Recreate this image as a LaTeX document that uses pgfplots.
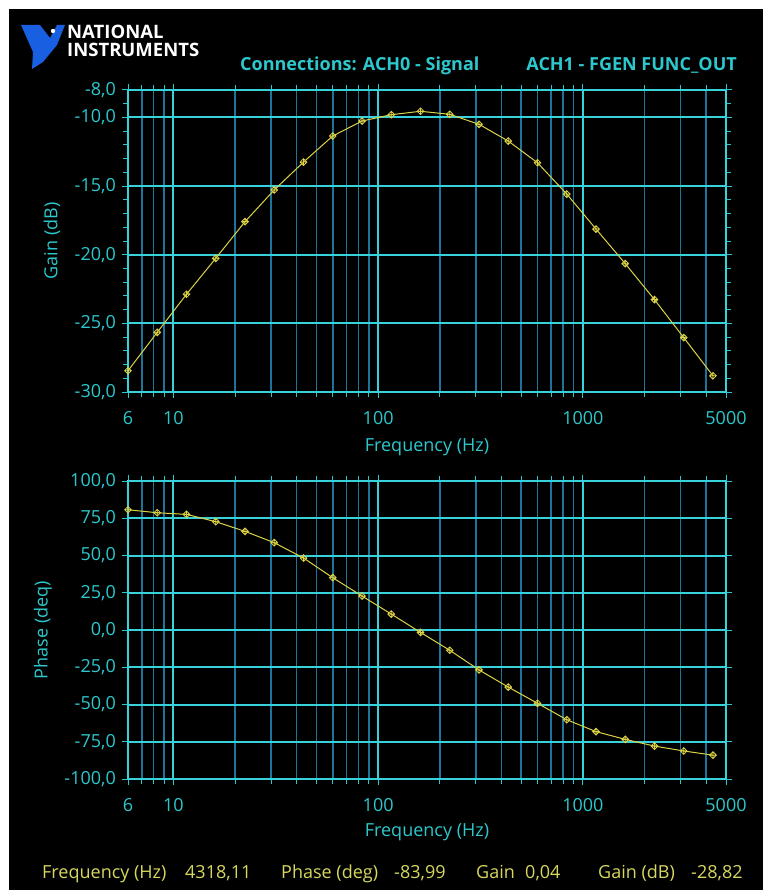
\documentclass[border=0pt]{standalone}
\usepackage{fontspec}
\setmainfont{Open Sans}
\newfontfamily\logofont{Open Sans}
\usepackage{pgfplots}
\usepackage{pgfplotstable}
\pgfplotsset{compat=1.18}
\definecolor{gridmaj}{RGB}{55,210,220}
\definecolor{gridmin}{RGB}{30,115,155}
\definecolor{lab}{RGB}{45,200,205}
\definecolor{curvec}{RGB}{220,210,70}
\definecolor{stat}{RGB}{215,215,95}
\definecolor{framec}{RGB}{200,200,200}
\definecolor{niblue}{RGB}{25,95,225}

\pgfdeclareplotmark{dcross}{%
  \pgfpathmoveto{\pgfqpoint{0pt}{\pgfplotmarksize}}%
  \pgfpathlineto{\pgfqpoint{\pgfplotmarksize}{0pt}}%
  \pgfpathlineto{\pgfqpoint{0pt}{-\pgfplotmarksize}}%
  \pgfpathlineto{\pgfqpoint{-\pgfplotmarksize}{0pt}}%
  \pgfpathclose
  \pgfpathmoveto{\pgfqpoint{0pt}{\pgfplotmarksize}}%
  \pgfpathlineto{\pgfqpoint{0pt}{-\pgfplotmarksize}}%
  \pgfpathmoveto{\pgfqpoint{\pgfplotmarksize}{0pt}}%
  \pgfpathlineto{\pgfqpoint{-\pgfplotmarksize}{0pt}}%
  \pgfusepathqstroke
}

\pgfplotstableread{
f gain phase
6.00 -28.45 80.7
8.337 -25.65 78.7
11.585 -22.88 77.6
16.098 -20.26 72.7
22.37 -17.59 66.2
31.08 -15.28 58.6
43.19 -13.25 48.3
60.01 -11.35 35.1
83.39 -10.26 22.8
115.87 -9.80 10.7
161.0 -9.55 -1.6
223.7 -9.77 -13.6
310.9 -10.50 -26.8
431.9 -11.72 -38.3
600.2 -13.30 -49.2
834.0 -15.58 -60.2
1158.8 -18.13 -68.2
1610 -20.65 -73.4
2237 -23.27 -77.9
3109 -26.04 -81.2
4318.11 -28.82 -83.99
}\bodedata

\begin{document}
\fontsize{18}{21}\selectfont
\begin{tikzpicture}
\fill[white] (0pt,0pt) rectangle (763pt,-890pt);
\fill[black] (9pt,-9pt) rectangle (763pt,-890pt);

% logo
\fill[niblue] (21pt,-25pt) -- (40pt,-25pt) -- (50pt,-38pt) -- (57pt,-25pt) -- (65pt,-25pt) -- (57pt,-45pt) -- (43pt,-62pt) -- (32pt,-69pt) -- (33pt,-52pt) -- cycle;
\fill[white] (53pt,-31pt) circle (2.2pt);
\node[anchor=base west, white, inner sep=0pt, font=\logofont\bfseries\fontsize{18.5}{20}\selectfont] at (67pt,-39pt) {NATIONAL};
\node[anchor=base west, white, inner sep=0pt, font=\logofont\bfseries\fontsize{18.5}{20}\selectfont] at (67pt,-57pt) {INSTRUMENTS};

\node[anchor=base west, lab, inner sep=0pt, font=\bfseries] at (240pt,-71pt) {Connections: ACH0 - Signal};
\node[anchor=base east, lab, inner sep=0pt, font=\bfseries] at (737pt,-71pt) {ACH1 - FGEN FUNC\_OUT};

\begin{axis}[at={(128pt,-392pt)}, anchor=south west,
  scale only axis, width=598pt, height=302pt,
  xmode=log, xmin=6, xmax=5000,
  xtick={10,100,1000}, xticklabels={10,100,1000},
  extra x ticks={6,5000}, extra x tick labels={6,5000},
  minor xtick={7,8,9,20,30,40,50,60,70,80,90,200,300,400,500,600,700,800,900,2000,3000,4000},
  xmajorgrids=true, xminorgrids=true, ymajorgrids=true,
  major grid style={gridmaj, line width=2pt},
  minor grid style={gridmin, line width=1.6pt},
  axis line style={framec, line width=1.3pt},
  tick style={lab, line width=1pt},
  tick align=outside,
  major tick length=6pt, minor tick length=5pt,
  tick label style={lab},
  xticklabel style={yshift=-7pt},
  label style={lab},
  /pgf/number format/assume math mode=true,
  yticklabel style={/pgf/number format/.cd, fixed, fixed zerofill, precision=1, use comma},
  xlabel={Frequency (Hz)},
  xlabel style={at={(axis description cs:0.5,0)}, anchor=center, yshift=-55pt},
  clip marker paths=false,
  ymin=-30, ymax=-8,
  ytick={-25,-20,-15,-10},
  extra y ticks={-30,-8},
  minor ytick={-29,-28,-27,-26,-24,-23,-22,-21,-19,-18,-17,-16,-14,-13,-12,-11,-9},
  ylabel={Gain (dB)},
  ylabel style={at={(axis description cs:0,0.5)}, anchor=center, yshift=76pt},
]
\addplot[curvec, line width=1pt, mark=dcross, mark size=3.4pt, mark options={line width=0.8pt}] table[x=f, y=gain] {\bodedata};
\end{axis}

\begin{axis}[at={(128pt,-779pt)}, anchor=south west,
  scale only axis, width=598pt, height=298pt,
  xmode=log, xmin=6, xmax=5000,
  xtick={10,100,1000}, xticklabels={10,100,1000},
  extra x ticks={6,5000}, extra x tick labels={6,5000},
  minor xtick={7,8,9,20,30,40,50,60,70,80,90,200,300,400,500,600,700,800,900,2000,3000,4000},
  xmajorgrids=true, xminorgrids=true, ymajorgrids=true,
  major grid style={gridmaj, line width=2pt},
  minor grid style={gridmin, line width=1.6pt},
  axis line style={framec, line width=1.3pt},
  tick style={lab, line width=1pt},
  tick align=outside,
  major tick length=6pt, minor tick length=5pt,
  tick label style={lab},
  xticklabel style={yshift=-7pt},
  label style={lab},
  /pgf/number format/assume math mode=true,
  yticklabel style={/pgf/number format/.cd, fixed, fixed zerofill, precision=1, use comma},
  xlabel={Frequency (Hz)},
  xlabel style={at={(axis description cs:0.5,0)}, anchor=center, yshift=-53pt},
  clip marker paths=false,
  ymin=-100, ymax=100,
  ytick={-75,-50,-25,0,25,50,75},
  extra y ticks={-100,100},
  ylabel={Phase (deq)},
  ylabel style={at={(axis description cs:0,0.5)}, anchor=center, yshift=85pt},
]
\addplot[curvec, line width=1pt, mark=dcross, mark size=3.4pt, mark options={line width=0.8pt}] table[x=f, y=phase] {\bodedata};
\end{axis}

\node[anchor=base west, stat, inner sep=0pt] at (42pt,-878pt) {Frequency (Hz)};
\node[anchor=base west, stat, inner sep=0pt] at (185pt,-878pt) {4318,11};
\node[anchor=base west, stat, inner sep=0pt] at (281pt,-878pt) {Phase (deg)};
\node[anchor=base west, stat, inner sep=0pt] at (394pt,-878pt) {-83,99};
\node[anchor=base west, stat, inner sep=0pt] at (476pt,-878pt) {Gain};
\node[anchor=base west, stat, inner sep=0pt] at (525pt,-878pt) {0,04};
\node[anchor=base west, stat, inner sep=0pt] at (598pt,-878pt) {Gain (dB)};
\node[anchor=base west, stat, inner sep=0pt] at (691pt,-878pt) {-28,82};

\pgfresetboundingbox
\useasboundingbox (0pt,0pt) rectangle (763pt,-890pt);
\end{tikzpicture}
\end{document}
